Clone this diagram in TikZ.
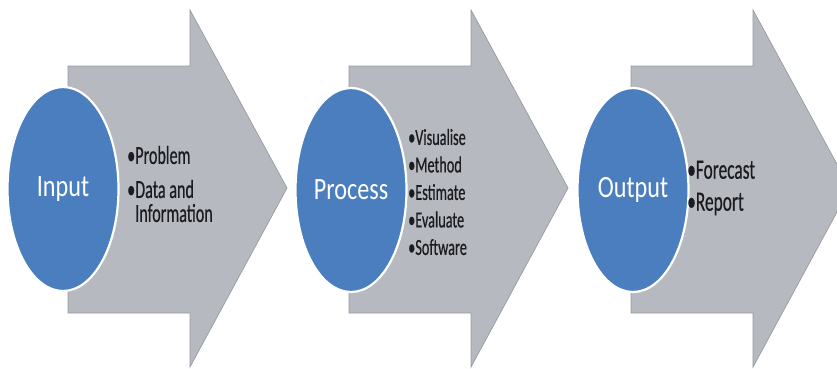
\documentclass[tikz,border=0pt]{standalone}
\usepackage{fontspec}
\setmainfont{Carlito}
\newfontfamily\itemfont[FakeStretch=0.62,FakeBold=0.5]{Carlito}
\newfontfamily\stagefont[FakeStretch=0.78]{Carlito}
\usetikzlibrary{shapes.geometric}

\definecolor{arrowgray}{RGB}{182,185,192}
\definecolor{edgegray}{RGB}{150,154,162}
\definecolor{stageblue}{RGB}{74,126,191}
\definecolor{itemtext}{RGB}{28,28,32}

\begin{document}
\begin{tikzpicture}[x=1pt,y=-1pt,
  chevron/.style={fill=arrowgray, draw=edgegray, line width=0.7pt, line join=miter},
  stage/.style={ellipse, fill=stageblue, draw=white, line width=2.2pt,
    minimum width=111pt, minimum height=204pt, inner sep=0pt, text=white,
    font=\stagefont\fontsize{31}{33}\selectfont},
  items/.style={anchor=west, align=left, inner sep=0pt, text=itemtext}]

\useasboundingbox (0,0) rectangle (837,369);
\clip (0,0) rectangle (837,369);

% block arrows, one per stage
\foreach \dx in {0,281,563}{
  \begin{scope}[xshift=\dx pt]
    \draw[chevron] (68,66) -- (190,66) -- (190,10) -- (287,188)
      -- (190,367) -- (190,313) -- (68,313) -- cycle;
  \end{scope}
}

% stage ellipses
\node[stage] (input)   at (63,189)  {Input};
\node[stage] (process) at (351,190) {Process};
\node[stage] (output)  at (633,190) {Output};

% item lists
\node[items, font=\itemfont\fontsize{26}{24}\selectfont] (inlist) at (127,184)
  {\textbullet Problem\\[10pt]
   \textbullet Data and\\
   \phantom{\textbullet}Information};
\node[items, font=\itemfont\fontsize{23}{27.5}\selectfont] (proclist) at (408,192)
  {\textbullet Visualise\\
   \textbullet Method\\
   \textbullet Estimate\\
   \textbullet Evaluate\\
   \textbullet Software};
\node[items, font=\itemfont\fontsize{28}{32}\selectfont] (outlist) at (687,188)
  {\textbullet Forecast\\
   \textbullet Report};
\end{tikzpicture}
\end{document}
